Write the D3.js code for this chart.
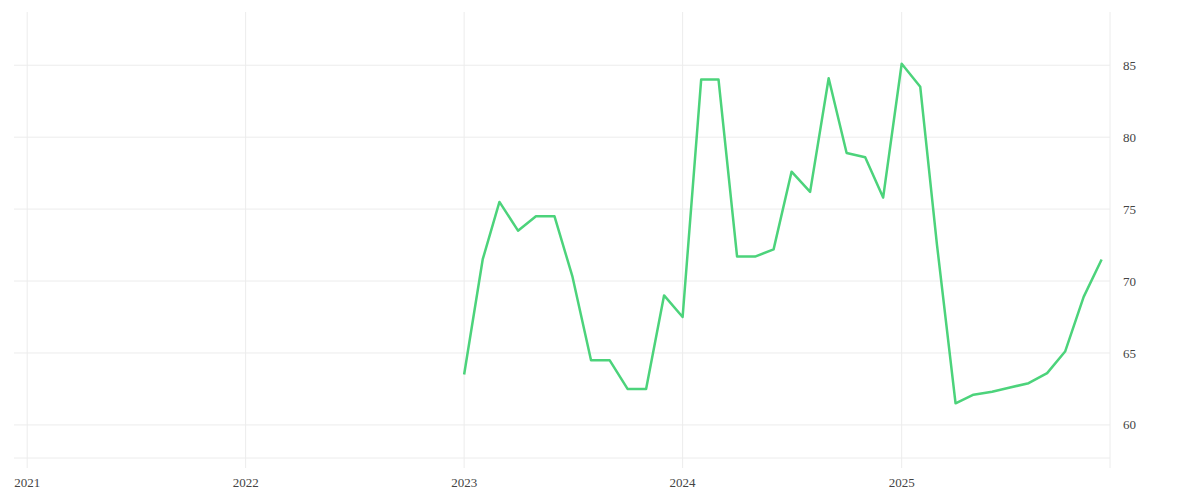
<!DOCTYPE html>
<html>
<head>
<meta charset="utf-8">
<script src="https://cdn.jsdelivr.net/npm/d3@7"></script>
<style>
body { margin: 0; background: #fff; }
text { font-family: "Liberation Serif", serif; font-size: 13px; fill: #444; }
</style>
</head>
<body>
<svg id="chart" width="1200" height="500"></svg>
<script>
const months = [];
for (let y = 2023; y <= 2025; y++) for (let m = 0; m < 12; m++) months.push(new Date(y, m, 1));
const values = [
    63.5, 71.5, 75.5, 73.5, 74.5, 74.5, 70.3, 64.5, 64.5, 62.5, 62.5, 69.0,
    67.5, 84.0, 84.0, 71.7, 71.7, 72.2, 77.6, 76.2, 84.1, 78.9, 78.6, 75.8,
    85.1, 83.5, 72.5, 61.5, 62.1, 62.3, 62.6, 62.9, 63.6, 65.1, 68.9, 71.5
];
const yTicks = [60, 65, 70, 75, 80, 85];
const xTicks = [2021, 2022, 2023, 2024, 2025];

const plot = { left: 14, right: 1110, top: 12, bottom: 458 };
const svg = d3.select("#chart");

const x = d3.scaleTime()
    .domain([new Date(2020, 11, 10), new Date(2025, 11, 15)])
    .range([plot.left, plot.right]);
const y = d3.scaleLinear()
    .domain([57.7, 88.7])
    .range([plot.bottom, plot.top]);

// gridlines
svg.append("g")
    .selectAll("line")
    .data(yTicks)
    .enter()
    .append("line")
    .attr("x1", plot.left).attr("x2", plot.right)
    .attr("y1", d => y(d)).attr("y2", d => y(d))
    .attr("stroke", "#ececec");

svg.append("g")
    .selectAll("line")
    .data(xTicks)
    .enter()
    .append("line")
    .attr("x1", d => x(new Date(d, 0, 1))).attr("x2", d => x(new Date(d, 0, 1)))
    .attr("y1", plot.top).attr("y2", plot.bottom + 10)
    .attr("stroke", "#ececec");

// frame
svg.append("line").attr("x1", plot.left).attr("x2", plot.right).attr("y1", plot.bottom).attr("y2", plot.bottom).attr("stroke", "#ececec");
svg.append("line").attr("x1", plot.right).attr("x2", plot.right).attr("y1", plot.top).attr("y2", plot.bottom + 10).attr("stroke", "#ececec");

// labels
svg.append("g")
    .selectAll("text")
    .data(yTicks)
    .enter()
    .append("text")
    .attr("x", plot.right + 13)
    .attr("y", d => y(d))
    .attr("dy", "0.35em")
    .text(d => d);

svg.append("g")
    .selectAll("text")
    .data(xTicks)
    .enter()
    .append("text")
    .attr("x", d => x(new Date(d, 0, 1)))
    .attr("y", 487)
    .attr("text-anchor", "middle")
    .text(d => d);

const line = d3.line()
    .x((d, i) => x(months[i]))
    .y(d => y(d));

svg.append("path")
    .datum(values)
    .attr("d", line)
    .attr("fill", "none")
    .attr("stroke", "#4cd37b")
    .attr("stroke-width", 2.5)
    .attr("stroke-linejoin", "round");
</script>
</body>
</html>
